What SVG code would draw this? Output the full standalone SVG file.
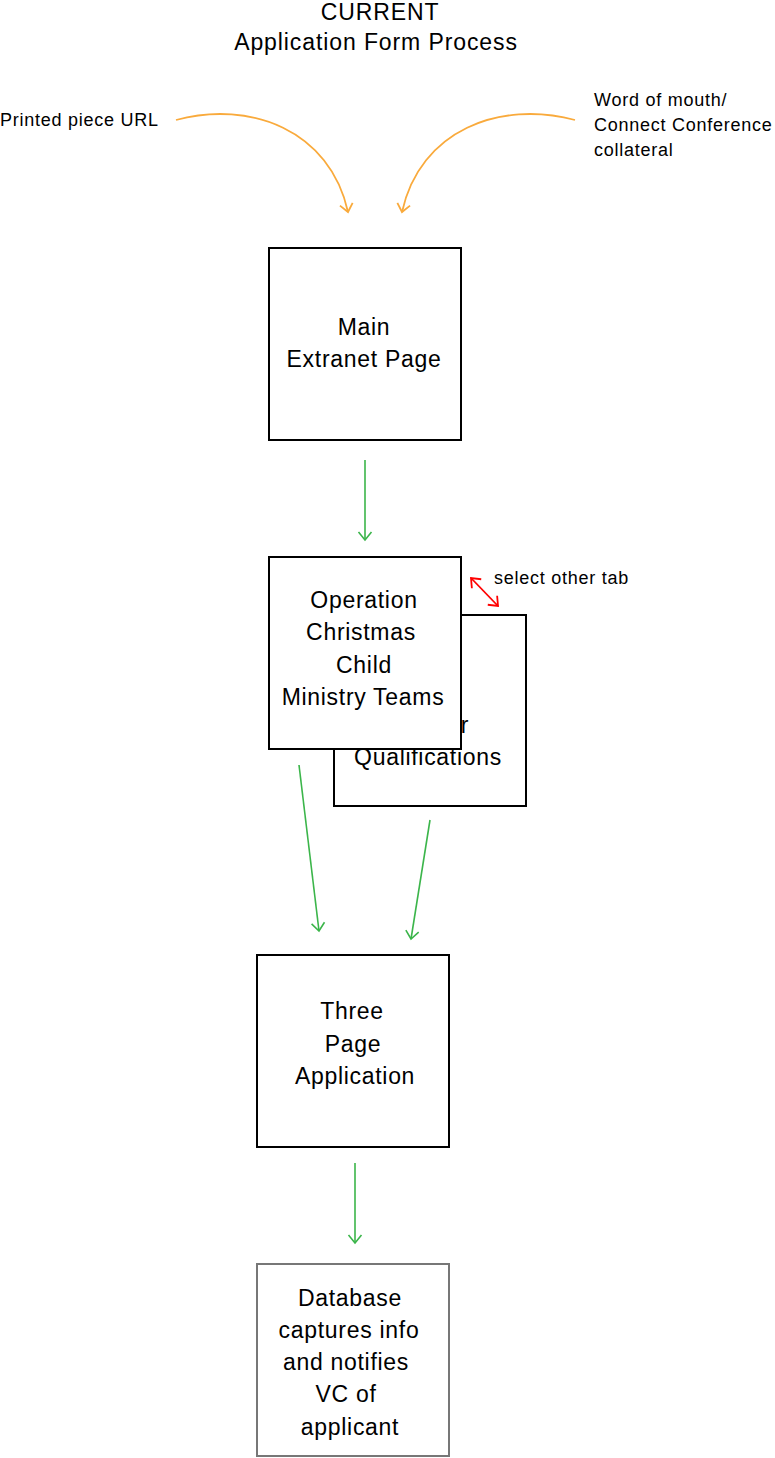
<svg xmlns="http://www.w3.org/2000/svg" width="775" height="1458" viewBox="0 0 775 1458">
<style>
.big{font-family:"Liberation Sans",Arial,sans-serif;font-size:23px;letter-spacing:0.7px;fill:#000;text-anchor:middle}
.small{font-family:"Liberation Sans",Arial,sans-serif;font-size:18px;letter-spacing:0.75px;fill:#000}
.box{fill:#fff;stroke:#000;stroke-width:2}
.g{fill:none;stroke:#3BB54A;stroke-width:1.6}
.o{fill:none;stroke:#F9AA3C;stroke-width:1.8}
.r{fill:none;stroke:#FF0000;stroke-width:1.8}
</style>
<defs>
<marker id="ag" markerUnits="userSpaceOnUse" markerWidth="20" markerHeight="20" refX="0" refY="0" viewBox="-10 -10 20 20" orient="auto" overflow="visible"><path d="M-8,-6.5 L0,0 L-8,6.5" fill="none" stroke="#3BB54A" stroke-width="1.6"/></marker>
<marker id="ao" markerUnits="userSpaceOnUse" markerWidth="20" markerHeight="20" refX="0" refY="0" viewBox="-10 -10 20 20" orient="auto" overflow="visible"><path d="M-8,-6.5 L0,0 L-8,6.5" fill="none" stroke="#F9AA3C" stroke-width="1.8"/></marker>
<marker id="ar" markerUnits="userSpaceOnUse" markerWidth="20" markerHeight="20" refX="0" refY="0" viewBox="-10 -10 20 20" orient="auto-start-reverse" overflow="visible"><path d="M-8,-6.5 L0,0 L-8,6.5" fill="none" stroke="#FF0000" stroke-width="1.8"/></marker>
</defs>
<rect width="775" height="1458" fill="#fff"/>
<g id="title">
<text class="big" x="380" y="19.5" style="letter-spacing:0.9px">CURRENT</text>
<text class="big" x="376" y="50" style="letter-spacing:0.9px">Application Form Process</text>
</g>
<g id="label-printed"><text class="small" x="0" y="126">Printed piece URL</text></g>
<g id="label-word"><text class="small" x="594" y="106">Word of mouth/</text><text class="small" x="594" y="131">Connect Conference</text><text class="small" x="594" y="156">collateral</text></g>
<g id="node-main"><rect class="box" x="269" y="248" width="192" height="192"/><text class="big" x="364" y="335">Main</text><text class="big" x="364" y="367">Extranet Page</text></g>
<g id="node-qualifications"><rect class="box" x="334" y="615" width="192" height="191"/><text class="big" x="465" y="733">r</text><text class="big" x="428" y="765">Qualifications</text></g>
<g id="node-occ"><rect class="box" x="269" y="557" width="192" height="192"/><text class="big" x="364" y="608">Operation</text><text class="big" x="361" y="640">Christmas</text><text class="big" x="364" y="673">Child</text><text class="big" x="363" y="705">Ministry Teams</text></g>
<g id="label-select"><text class="small" x="494" y="584">select other tab</text></g>
<g id="node-three"><rect class="box" x="257" y="955" width="192" height="192"/><text class="big" x="352" y="1019">Three</text><text class="big" x="353" y="1052">Page</text><text class="big" x="355" y="1084">Application</text></g>
<g id="node-database"><rect class="box" x="257" y="1264" width="192" height="192" style="stroke:#777"/><text class="big" x="350" y="1306">Database</text><text class="big" x="349" y="1338">captures info</text><text class="big" x="346" y="1370">and notifies</text><text class="big" x="346" y="1402">VC of</text><text class="big" x="350" y="1435">applicant</text></g>
<g id="connectors">
<path class="o" d="M176,120 C250,100 330,130 348,212" marker-end="url(#ao)"/>
<path class="o" d="M575,120 C500,100 420,130 402,212" marker-end="url(#ao)"/>
<path class="g" d="M365,460 L365,540" marker-end="url(#ag)"/>
<path class="r" d="M471,578 L498,606" marker-start="url(#ar)" marker-end="url(#ar)"/>
<path class="g" d="M299,765 L319,931" marker-end="url(#ag)"/>
<path class="g" d="M430,820 L411,939" marker-end="url(#ag)"/>
<path class="g" d="M355,1163 L355,1243" marker-end="url(#ag)"/>
</g>
</svg>
